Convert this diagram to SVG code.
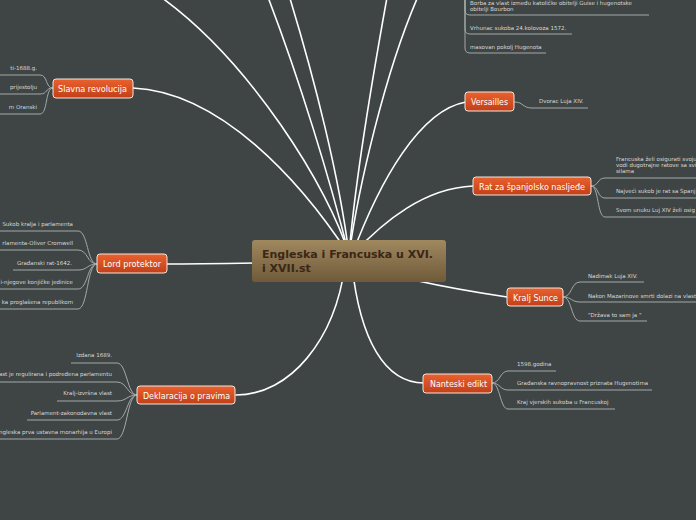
<svg xmlns="http://www.w3.org/2000/svg" width="696" height="520" viewBox="0 0 696 520">
<defs>
<linearGradient id="og" x1="0" y1="0" x2="0" y2="1"><stop offset="0" stop-color="#ea612d"/><stop offset="1" stop-color="#c13f19"/></linearGradient>
<linearGradient id="cg" x1="0" y1="0" x2="0" y2="1"><stop offset="0" stop-color="#a0885f"/><stop offset="1" stop-color="#6f5a39"/></linearGradient>
<style>
.main{fill:none;stroke:#ffffff;stroke-width:1.6;stroke-linecap:round}
.sub{fill:none;stroke:#a4a8a8;stroke-width:1}
.box{fill:url(#og);stroke:#f3e6df;stroke-width:1}
.lbl{font-family:"DejaVu Sans Condensed","DejaVu Sans",sans-serif;font-stretch:condensed;font-size:9px;fill:#ffffff}
.st{font-family:"DejaVu Sans",sans-serif;font-size:5.5px;fill:#d8d8d8}
.e{text-anchor:end}
.ct{font-family:"DejaVu Sans",sans-serif;font-weight:bold;font-size:11px;fill:#3b2715}
</style>
</defs>
<rect width="696" height="520" fill="#3f4545"/>
<g id="connectors">
<path class="main" d="M349,255 C330,190 250,60 158,-5"/>
<path class="main" d="M349,255 C330,180 300,80 266,-8"/>
<path class="main" d="M349,255 C340,180 315,80 288,-8"/>
<path class="main" d="M349,255 C355,180 372,80 388,-8"/>
<path class="main" d="M349,255 C358,190 385,70 420,-8"/>
<path class="main" d="M133,88 C220,92 300,180 349,255"/>
<path class="main" d="M167,264 C220,264 300,262 349,262"/>
<path class="main" d="M236,395 C290,395 335,340 345,265"/>
<path class="main" d="M466,102 C420,110 380,180 352,255"/>
<path class="main" d="M473,186 C425,188 385,220 352,255"/>
<path class="main" d="M507,297 C460,290 400,280 349,262"/>
<path class="main" d="M424,383 C385,383 360,340 352,265"/>
<!-- sub connectors -->
<path class="sub" d="M465,-5 L465,10 Q465,15 470,15 L649,15"/>
<path class="sub" d="M465,-5 L465,29 Q465,34 470,34 L572,34"/>
<path class="sub" d="M465,-5 L465,48 Q465,53 470,53 L546,53"/>
<path class="sub" d="M53,88 C45,88 48,75 40,75 L-5,75"/>
<path class="sub" d="M53,88 C45,88 48,94 40,94 L-5,94"/>
<path class="sub" d="M53,88 C45,88 48,114 40,114 L-5,114"/>
<path class="sub" d="M514,102 C524,102 522,108 532,108 L588,108"/>
<path class="sub" d="M591,186 C599,186 597,178 605,178 L700,178"/>
<path class="sub" d="M591,186 C599,186 597,198 605,198 L700,198"/>
<path class="sub" d="M591,186 C599,186 597,217 605,217 L700,217"/>
<path class="sub" d="M97,264 C87,264 88,231 78,231 L-5,231"/>
<path class="sub" d="M97,264 C87,264 88,250 78,250 L-5,250"/>
<path class="sub" d="M97,264 C87,264 88,270 78,270 L13,270"/>
<path class="sub" d="M97,264 C87,264 88,289 78,289 L-5,289"/>
<path class="sub" d="M97,264 C87,264 88,309 78,309 L-5,309"/>
<path class="sub" d="M563,297 C572,297 571,282 580,282 L644,282"/>
<path class="sub" d="M563,297 C572,297 571,302 580,302 L700,302"/>
<path class="sub" d="M563,297 C572,297 571,321 580,321 L647,321"/>
<path class="sub" d="M137,395 C127,395 127,363 117,363 L71,363"/>
<path class="sub" d="M137,395 C127,395 127,382 117,382 L-5,382"/>
<path class="sub" d="M137,395 C127,395 127,401 117,401 L57,401"/>
<path class="sub" d="M137,395 C127,395 127,420 117,420 L27,420"/>
<path class="sub" d="M137,395 C127,395 127,439 117,439 L-5,439"/>
<path class="sub" d="M492,383 C500,383 500,371 508,371 L556,371"/>
<path class="sub" d="M492,383 C500,383 500,390 508,390 L652,390"/>
<path class="sub" d="M492,383 C500,383 500,409 508,409 L615,409"/>
</g>
<g id="center">
<rect x="252" y="240" width="194" height="42" rx="3" fill="url(#cg)"/>
<text class="ct" x="262" y="258">Engleska i Francuska u XVI.</text>
<text class="ct" x="262" y="272">i XVII.st</text>
</g>
<g id="topright-items">
<text class="st" x="470" y="5">Borba za vlast između katoličke obitelji Guise i hugenotske</text>
<text class="st" x="470" y="11">obitelji Bourbon</text>
<text class="st" x="470" y="30">Vrhunac sukoba 24.kolovoza 1572.</text>
<text class="st" x="470" y="49">masovan pokolj Hugenota</text>
</g>
<g id="slavna">
<rect class="box" x="53" y="79" width="80" height="19" rx="3"/>
<text class="lbl" x="58" y="92" textLength="69" lengthAdjust="spacingAndGlyphs">Slavna revolucija</text>
<text class="st e" x="37" y="70">ti-1688.g.</text>
<text class="st e" x="37" y="89">prijestolju</text>
<text class="st e" x="37" y="109">m Oranski</text>
</g>
<g id="versailles">
<rect class="box" x="465" y="92" width="49" height="19" rx="3"/>
<text class="lbl" x="471" y="105" textLength="37" lengthAdjust="spacingAndGlyphs">Versailles</text>
<text class="st" x="539" y="103">Dvorac Luja XIV.</text>
</g>
<g id="rat">
<rect class="box" x="473" y="177" width="118" height="18" rx="3"/>
<text class="lbl" x="479" y="189.5" textLength="106" lengthAdjust="spacingAndGlyphs">Rat za španjolsko nasljeđe</text>
<text class="st" x="616" y="161">Francuska želi osigurati svoju</text>
<text class="st" x="616" y="167">vodi dugotrajne ratove sa svi</text>
<text class="st" x="616" y="173">silama</text>
<text class="st" x="616" y="193">Najveći sukob je rat sa Španj</text>
<text class="st" x="616" y="212">Svom unuku Luj XIV želi osig</text>
</g>
<g id="lord">
<rect class="box" x="97" y="254" width="70" height="19" rx="3"/>
<text class="lbl" x="103" y="267" textLength="58" lengthAdjust="spacingAndGlyphs">Lord protektor</text>
<text class="st e" x="73" y="226">Sukob kralja i parlamenta</text>
<text class="st e" x="73" y="245">rlamenta-Oliver Cromwell</text>
<text class="st e" x="72" y="265">Građanski rat-1642.</text>
<text class="st e" x="73" y="284">i-njegove konjičke jedinice</text>
<text class="st e" x="73" y="304">ka proglašena republikom</text>
</g>
<g id="kralj">
<rect class="box" x="507" y="288" width="56" height="18" rx="3"/>
<text class="lbl" x="513" y="300.5" textLength="45" lengthAdjust="spacingAndGlyphs">Kralj Sunce</text>
<text class="st" x="588" y="278">Nadimak Luja XIV.</text>
<text class="st" x="588" y="297.5">Nakon Mazarinove smrti dolazi na vlast</text>
<text class="st" x="588" y="317">"Država to sam ja "</text>
</g>
<g id="deklaracija">
<rect class="box" x="137" y="386" width="98" height="18" rx="3"/>
<text class="lbl" x="143" y="398.5" textLength="87" lengthAdjust="spacingAndGlyphs">Deklaracija o pravima</text>
<text class="st e" x="112" y="357">Izdana 1689.</text>
<text class="st e" x="112" y="376">ast je regulirana i podređena parlamentu</text>
<text class="st e" x="112" y="395">Kralj-izvršna vlast</text>
<text class="st e" x="112" y="414.5">Parlament-zakonodavna vlast</text>
<text class="st e" x="112" y="434">ngleska prva ustavna monarhija u Europi</text>
</g>
<g id="nanteski">
<rect class="box" x="423" y="374" width="69" height="19" rx="3"/>
<text class="lbl" x="430" y="387" textLength="57" lengthAdjust="spacingAndGlyphs">Nanteski edikt</text>
<text class="st" x="517" y="365.5">1598.godina</text>
<text class="st" x="517" y="385">Građanska ravnopravnost priznata Hugenotima</text>
<text class="st" x="517" y="404">Kraj vjerskih sukoba u Francuskoj</text>
</g>
</svg>
